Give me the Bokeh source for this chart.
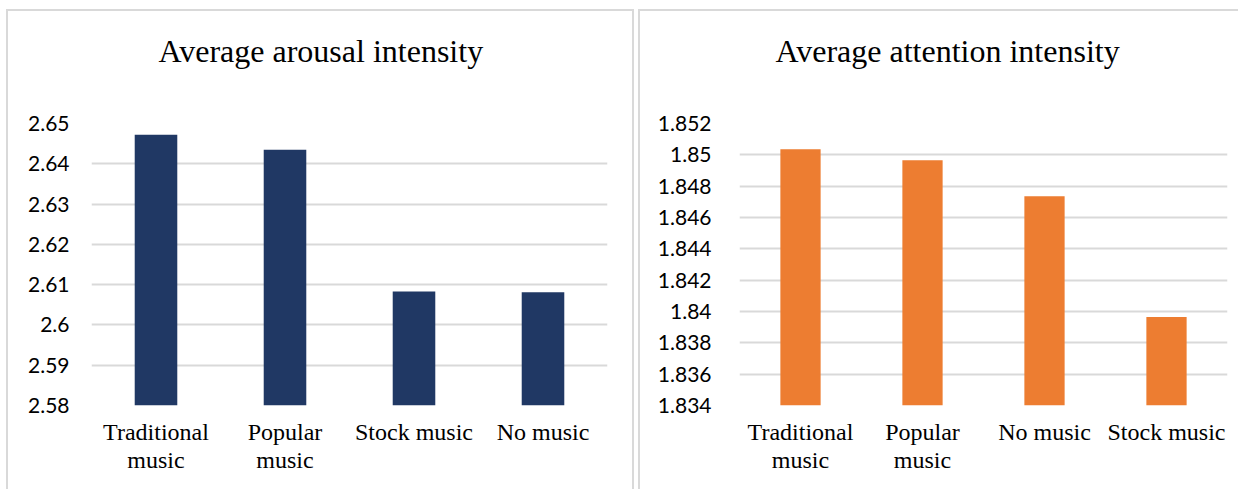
from bokeh.plotting import figure
from bokeh.layouts import row
from bokeh.models import FixedTicker, CustomJSTickFormatter, ColumnDataSource, Title
from bokeh.embed import file_html
from bokeh.resources import INLINE

# Average arousal intensity per music condition
arousal_categories = ["Traditional\nmusic", "Popular\nmusic", "Stock music", "No music"]
arousal_values = [2.6472, 2.6435, 2.6083, 2.6081]
arousal_ticks = [2.58, 2.59, 2.60, 2.61, 2.62, 2.63, 2.64, 2.65]

# Average attention intensity per music condition
attention_categories = ["Traditional\nmusic", "Popular\nmusic", "No music", "Stock music"]
attention_values = [1.85035, 1.84965, 1.84735, 1.83965]
attention_ticks = [1.834, 1.836, 1.838, 1.840, 1.842, 1.844, 1.846, 1.848, 1.850, 1.852]

GRID = "#d9d9d9"
SERIF = "Liberation Serif"
SANS = "Lato"


def bar_panel(title, cats, vals, ticks, color, width, frame_w, left, right, top,
              title_x, label_standoff):
    frame_h = 278
    height = 478
    p = figure(
        x_range=cats,
        y_range=(ticks[0], ticks[-1]),
        width=width,
        height=height,
        frame_width=frame_w,
        frame_height=frame_h,
        min_border_left=left,
        min_border_right=right,
        min_border_top=top,
        min_border_bottom=height - top - frame_h,
        output_backend="svg",
        toolbar_location=None,
        styles={"border": f"2px solid {GRID}"},
    )
    src = ColumnDataSource(data=dict(cat=cats, val=vals))
    p.vbar(x="cat", top="val", bottom=ticks[0], width=0.33, source=src,
           fill_color=color, line_color=None)

    # title with an empty second line, which leaves a gap above the plot area
    p.add_layout(Title(text=title + "\n", align="left", offset=title_x, standoff=38,
                       text_font=SERIF, text_font_style="normal",
                       text_font_size="32px", text_color="#000000"), "above")

    p.outline_line_color = None
    p.background_fill_color = "white"
    p.border_fill_color = "white"

    p.xgrid.grid_line_color = None
    p.ygrid.grid_line_color = GRID
    p.ygrid.grid_line_width = 2

    p.yaxis.ticker = FixedTicker(ticks=ticks)
    p.yaxis.formatter = CustomJSTickFormatter(code="return String(parseFloat(tick.toFixed(4)));")
    p.yaxis.major_label_text_font = SANS
    p.yaxis.major_label_text_font_size = "21px"
    p.yaxis.major_label_text_color = "#000000"
    p.yaxis.major_label_standoff = label_standoff

    p.xaxis.major_label_text_font = SERIF
    p.xaxis.major_label_text_font_size = "24px"
    p.xaxis.major_label_text_color = "#000000"
    p.xaxis.major_label_text_line_height = 1.1
    p.xaxis.major_label_standoff = 7
    p.xaxis.major_label_orientation = "horizontal"

    for ax in (p.xaxis[0], p.yaxis[0]):
        ax.axis_line_color = None
        ax.major_tick_line_color = None
        ax.minor_tick_line_color = None
    return p


p1 = bar_panel("Average arousal intensity", arousal_categories, arousal_values,
               arousal_ticks, "#203864", 624, 512, 83, 29, 110, 67, 16)
p2 = bar_panel("Average attention intensity", attention_categories, attention_values,
               attention_ticks, "#ED7D31", 600, 484, 99, 17, 112, 36, 22)

layout = row(p1, p2, spacing=4, styles={"margin-left": "6px", "margin-top": "9px"})

open("out.html", "w").write(file_html(layout, INLINE))
